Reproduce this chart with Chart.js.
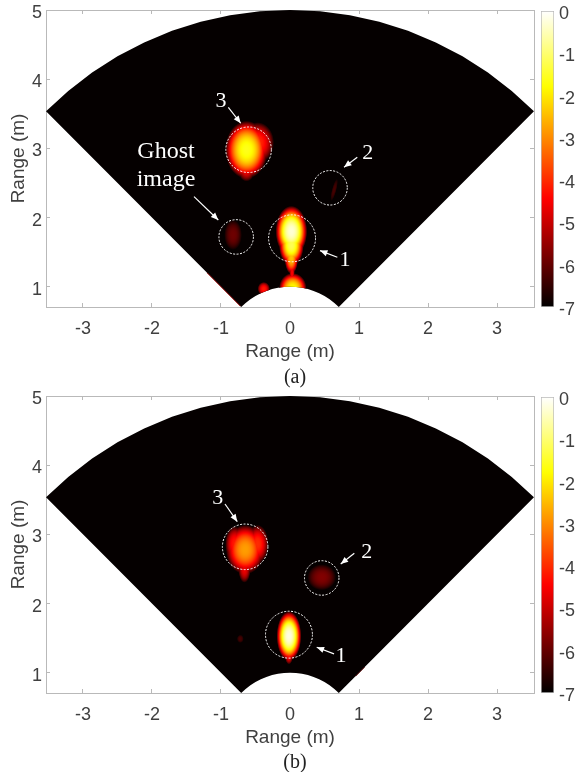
<!DOCTYPE html>
<html lang="en">
<head>
<meta charset="UTF-8">
<title>Range maps</title>
<script src="https://cdn.jsdelivr.net/npm/chart.js@4/dist/chart.umd.min.js"></script>
<style>
  body { margin: 0; background: #fff; width: 576px; height: 772px; position: relative; overflow: hidden; }
  canvas { position: absolute; filter: blur(0.4px); }
  .cap { position: absolute; width: 60px; text-align: center; font: 20px "Liberation Serif", serif; color: #222; filter: blur(0.3px); }
</style>
</head>
<body>
<canvas id="mapA" width="576" height="386" style="left:0;top:0"></canvas>
<canvas id="barA" width="46" height="330" style="left:530px;top:0"></canvas>
<canvas id="mapB" width="576" height="386" style="left:0;top:386px"></canvas>
<canvas id="barB" width="46" height="330" style="left:530px;top:386px"></canvas>
<div class="cap" style="left:265px;top:365px">(a)</div>
<div class="cap" style="left:265px;top:750px">(b)</div>
<script>
// axes
const xTicks = [-3, -2, -1, 0, 1, 2, 3];
const yTicks = [1, 2, 3, 4, 5];
const barTicks = [-7, -6, -5, -4, -3, -2, -1, 0];
const xLimits = [-3.536, 3.536];
const yLimits = [0.707, 5];

// sector outline, polar
const sectorBearings = [-45, -40, -35, -30, -25, -20, -15, -10, -5, 0, 5, 10, 15, 20, 25, 30, 35, 40, 45];
const sectorRanges = [1, 5];

// hot spots of panel (a), peak is on the colour bar scale
const aSpotX    = [-0.63, -0.47, -0.63, -0.825, 0.64, 0.02, 0.02, 0.02, 0.03, 0.04, -0.38];
const aSpotY    = [2.98, 3.08, 2.72, 1.75, 2.40, 1.80, 1.60, 1.42, 1.20, 0.98, 0.97];
const aSpotRx   = [0.31, 0.24, 0.13, 0.13, 0.035, 0.23, 0.18, 0.10, 0.04, 0.20, 0.09];
const aSpotRy   = [0.42, 0.30, 0.20, 0.22, 0.17, 0.37, 0.30, 0.24, 0.18, 0.22, 0.10];
const aSpotPeak = [-1.6, -4.0, -4.4, -5.9, -6.3, -0.3, -1.2, -2.4, -4.5, -1.8, -4.2];
const aSpotTilt = [0, 0, 0, 0, 15, 0, 0, 0, 0, 0, 0];

// hot spots of panel (b)
const bSpotX    = [-0.65, -0.47, -0.80, -0.66, 0.46, -0.015, -0.015, -0.72];
const bSpotY    = [2.78, 2.86, 2.86, 2.50, 2.38, 1.53, 1.25, 1.49];
const bSpotRx   = [0.28, 0.16, 0.14, 0.09, 0.21, 0.18, 0.06, 0.05];
const bSpotRy   = [0.36, 0.28, 0.26, 0.20, 0.19, 0.36, 0.13, 0.06];
const bSpotPeak = [-2.8, -4.0, -4.2, -4.6, -5.7, -0.2, -4.4, -6.3];
const bSpotTilt = [0, 0, 0, 0, 0, 0, 0, 0];

// red rim along the sector edge
const aRimX = [-1.2, -0.72];
const aRimY = [1.2, 0.72];
const bRimX = [0.95, 1.08];
const bRimY = [0.95, 1.08];

// dashed circles
const aCircleX = [0.03, 0.58, -0.60, -0.78];
const aCircleY = [1.70, 2.43, 2.98, 1.72];
const aCircleR = [0.34, 0.25, 0.33, 0.25];
const bCircleX = [-0.015, 0.46, -0.65];
const bCircleY = [1.55, 2.37, 2.82];
const bCircleR = [0.34, 0.25, 0.33];

// arrows, tail then head
const aArrowX0 = [-0.894, 0.975, 0.686, -1.391];
const aArrowY0 = [3.594, 2.871, 1.426, 2.302];
const aArrowX1 = [-0.714, 0.783, 0.435, -1.039];
const aArrowY1 = [3.363, 2.727, 1.522, 1.965];
const bArrowX0 = [-0.942, 0.932, 0.638];
const bArrowY0 = [3.439, 2.727, 1.272];
const bArrowX1 = [-0.764, 0.735, 0.387];
const bArrowY1 = [3.184, 2.572, 1.368];

// labels on the map
const aLabels = ['3', '2', '1', 'Ghost', 'image'];
const aLabelX = [-1.0, 1.126, 0.797, -1.797, -1.797];
const aLabelY = [3.68, 2.93, 1.39, 2.955, 2.55];
const bLabels = ['3', '2', '1'];
const bLabelX = [-1.048, 1.112, 0.739];
const bLabelY = [3.525, 2.745, 1.235];

const axisGray = '#b9b9b9';
const textGray = '#404040';

// same shape as the matlab "hot" map
function hotColour(v) {
    const t = (v + 7) / 7;
    const clamp = a => Math.max(0, Math.min(1, a));
    const r = Math.round(255 * clamp(t / 0.365));
    const g = Math.round(255 * clamp((t - 0.365) / 0.381));
    const b = Math.round(255 * clamp((t - 0.746) / 0.254));
    return `rgb(${r},${g},${b})`;
}

function sectorOutline() {
    const pts = [];
    const polar = (r, deg) => ({ x: r * Math.sin(deg * Math.PI / 180), y: r * Math.cos(deg * Math.PI / 180) });
    sectorBearings.forEach(b => pts.push(polar(sectorRanges[1], b)));
    sectorBearings.slice().reverse().forEach(b => pts.push(polar(sectorRanges[0], b)));
    return pts;
}

// tick labels must not push the plot box around
function noOverhang(s) {
    s.paddingLeft = s.paddingRight = s.paddingTop = s.paddingBottom = 0;
}

// draws spots clipped to the sector, then circles, arrows and labels on top
const overlay = {
    id: 'overlay',
    afterDatasetsDraw(chart) {
        const c = chart.ctx, sx = chart.scales.x, sy = chart.scales.y;
        const px = v => sx.getPixelForValue(v), py = v => sy.getPixelForValue(v);
        const sector = chart.getDatasetMeta(0).data;

        c.save();
        c.beginPath();
        sector.forEach((p, i) => i ? c.lineTo(p.x, p.y) : c.moveTo(p.x, p.y));
        c.closePath();
        c.clip();
        // hot map channels only ever rise, so lighten keeps the strongest spot
        c.globalCompositeOperation = 'lighten';
        chart.data.datasets[1].data.forEach(s => {
            c.save();
            c.translate(px(s.x), py(s.y));
            c.rotate(s.tilt * Math.PI / 180);
            c.scale(px(s.x + s.rx) - px(s.x), py(s.y) - py(s.y + s.ry));
            const g = c.createRadialGradient(0, 0, 0, 0, 0, 1);
            for (let i = 0; i <= 20; i++) {
                const t = i / 20;
                g.addColorStop(t, hotColour(-7 + (s.peak + 7) * (1 - Math.pow(t, 2.4))));
            }
            c.fillStyle = g;
            c.beginPath();
            c.arc(0, 0, 1, 0, Math.PI * 2);
            c.fill();
            c.restore();
        });
        c.restore();

        const a = chart.options.plugins.overlay;
        c.save();
        c.strokeStyle = '#fff';
        c.lineWidth = 1;
        c.setLineDash([2, 1.5]);
        a.circleX.forEach((x, i) => {
            c.beginPath();
            c.arc(px(x), py(a.circleY[i]), px(x + a.circleR[i]) - px(x), 0, Math.PI * 2);
            c.stroke();
        });
        c.setLineDash([]);
        c.fillStyle = '#fff';
        c.lineWidth = 1.2;
        a.arrowX0.forEach((x, i) => {
            const x0 = px(x), y0 = py(a.arrowY0[i]), x1 = px(a.arrowX1[i]), y1 = py(a.arrowY1[i]);
            const ang = Math.atan2(y1 - y0, x1 - x0);
            c.beginPath();
            c.moveTo(x0, y0);
            c.lineTo(x1, y1);
            c.stroke();
            c.beginPath();
            c.moveTo(x1, y1);
            c.lineTo(x1 - 8 * Math.cos(ang - 0.4), y1 - 8 * Math.sin(ang - 0.4));
            c.lineTo(x1 - 8 * Math.cos(ang + 0.4), y1 - 8 * Math.sin(ang + 0.4));
            c.closePath();
            c.fill();
        });
        c.textAlign = 'center';
        c.textBaseline = 'middle';
        a.labels.forEach((t, i) => {
            c.font = (t.length > 1 ? 24 : 22) + 'px "Liberation Serif", serif';
            c.fillText(t, px(a.labelX[i]), py(a.labelY[i]));
        });
        c.restore();
    }
};

function makeMap(id, spots, rimX, rimY, rimColour, notes) {
    const spotData = spots.x.map((x, i) => ({ x: x, y: spots.y[i], rx: spots.rx[i], ry: spots.ry[i], peak: spots.peak[i], tilt: spots.tilt[i] }));
    const tickGrid = { drawOnChartArea: false, color: axisGray, tickLength: -4, tickWidth: 1 };
    const edge = { color: axisGray, width: 1 };
    const labelFont = { family: 'Liberation Sans', size: 18 };
    const titleFont = { family: 'Liberation Sans', size: 19 };
    new Chart(document.getElementById(id), {
        type: 'scatter',
        plugins: [overlay],
        data: {
            datasets: [
                { data: sectorOutline(), showLine: true, fill: 'shape', backgroundColor: '#050000', borderWidth: 0, pointRadius: 0, clip: false, order: 2 },
                { data: spotData, pointRadius: 0, showLine: false },
                { data: rimX.map((x, i) => ({ x: x, y: rimY[i] })), showLine: true, borderColor: rimColour, borderWidth: 1, pointRadius: 0 }
            ]
        },
        options: {
            responsive: false,
            animation: false,
            devicePixelRatio: 1,
            layout: { autoPadding: false, padding: { top: 10, right: 42 } },
            plugins: { legend: { display: false }, tooltip: { enabled: false }, overlay: notes },
            scales: {
                x: {
                    min: xLimits[0], max: xLimits[1], position: 'bottom',
                    afterBuildTicks: s => { s.ticks = xTicks.map(v => ({ value: v })); },
                    afterFit: s => { s.height = 79; noOverhang(s); },
                    grid: tickGrid, border: edge,
                    ticks: { color: textGray, font: labelFont, padding: 15, maxRotation: 0 },
                    title: { display: true, text: 'Range (m)', color: textGray, font: titleFont, padding: { top: 0, bottom: 23 } }
                },
                y: {
                    min: yLimits[0], max: yLimits[1], position: 'left',
                    afterBuildTicks: s => { s.ticks = yTicks.map(v => ({ value: v })); },
                    afterFit: s => { s.width = 46; noOverhang(s); },
                    grid: tickGrid, border: edge,
                    ticks: { color: textGray, font: labelFont, padding: 8, labelOffset: 3 },
                    title: { display: true, text: 'Range (m)', color: textGray, font: titleFont, padding: { top: 7, bottom: 0 } }
                },
                xTop: {
                    type: 'linear', min: xLimits[0], max: xLimits[1], position: 'top',
                    afterBuildTicks: s => { s.ticks = xTicks.map(v => ({ value: v })); },
                    afterFit: s => { s.height = 0; noOverhang(s); },
                    grid: tickGrid, border: edge, ticks: { display: false }
                },
                yRight: {
                    type: 'linear', min: yLimits[0], max: yLimits[1], position: 'right',
                    afterBuildTicks: s => { s.ticks = yTicks.map(v => ({ value: v })); },
                    afterFit: s => { s.width = 0; noOverhang(s); },
                    grid: tickGrid, border: edge, ticks: { display: false }
                }
            }
        }
    });
}

function makeBar(id) {
    new Chart(document.getElementById(id), {
        type: 'bar',
        data: {
            labels: ['dB'],
            datasets: [{
                data: [[barTicks[0], barTicks[barTicks.length - 1]]],
                barPercentage: 1,
                categoryPercentage: 1,
                borderColor: axisGray,
                borderWidth: 1,
                borderSkipped: false,
                backgroundColor: ctx => {
                    const { chart } = ctx;
                    if (!chart.chartArea) return '#000';
                    const y = chart.scales.y;
                    const g = chart.ctx.createLinearGradient(0, y.getPixelForValue(-7), 0, y.getPixelForValue(0));
                    for (let i = 0; i <= 70; i++) g.addColorStop(i / 70, hotColour(-7 + i / 10));
                    return g;
                }
            }]
        },
        options: {
            responsive: false,
            animation: false,
            devicePixelRatio: 1,
            layout: { autoPadding: false, padding: { left: 11, top: 11, bottom: 23 } },
            plugins: { legend: { display: false }, tooltip: { enabled: false } },
            scales: {
                x: { display: false },
                y: {
                    min: -7, max: 0, position: 'right',
                    afterBuildTicks: s => { s.ticks = barTicks.map(v => ({ value: v })); },
                    afterFit: s => { s.width = 22; noOverhang(s); },
                    grid: { display: false, drawTicks: false, tickLength: 0 },
                    border: { display: false },
                    ticks: { color: textGray, font: { family: 'Liberation Sans', size: 18 }, padding: 5, labelOffset: 3 }
                }
            }
        }
    });
}

makeMap('mapA',
    { x: aSpotX, y: aSpotY, rx: aSpotRx, ry: aSpotRy, peak: aSpotPeak, tilt: aSpotTilt },
    aRimX, aRimY, '#a01010',
    { circleX: aCircleX, circleY: aCircleY, circleR: aCircleR, arrowX0: aArrowX0, arrowY0: aArrowY0, arrowX1: aArrowX1, arrowY1: aArrowY1, labels: aLabels, labelX: aLabelX, labelY: aLabelY });
makeBar('barA');
makeMap('mapB',
    { x: bSpotX, y: bSpotY, rx: bSpotRx, ry: bSpotRy, peak: bSpotPeak, tilt: bSpotTilt },
    bRimX, bRimY, '#5a0a0a',
    { circleX: bCircleX, circleY: bCircleY, circleR: bCircleR, arrowX0: bArrowX0, arrowY0: bArrowY0, arrowX1: bArrowX1, arrowY1: bArrowY1, labels: bLabels, labelX: bLabelX, labelY: bLabelY });
makeBar('barB');
</script>
</body>
</html>
